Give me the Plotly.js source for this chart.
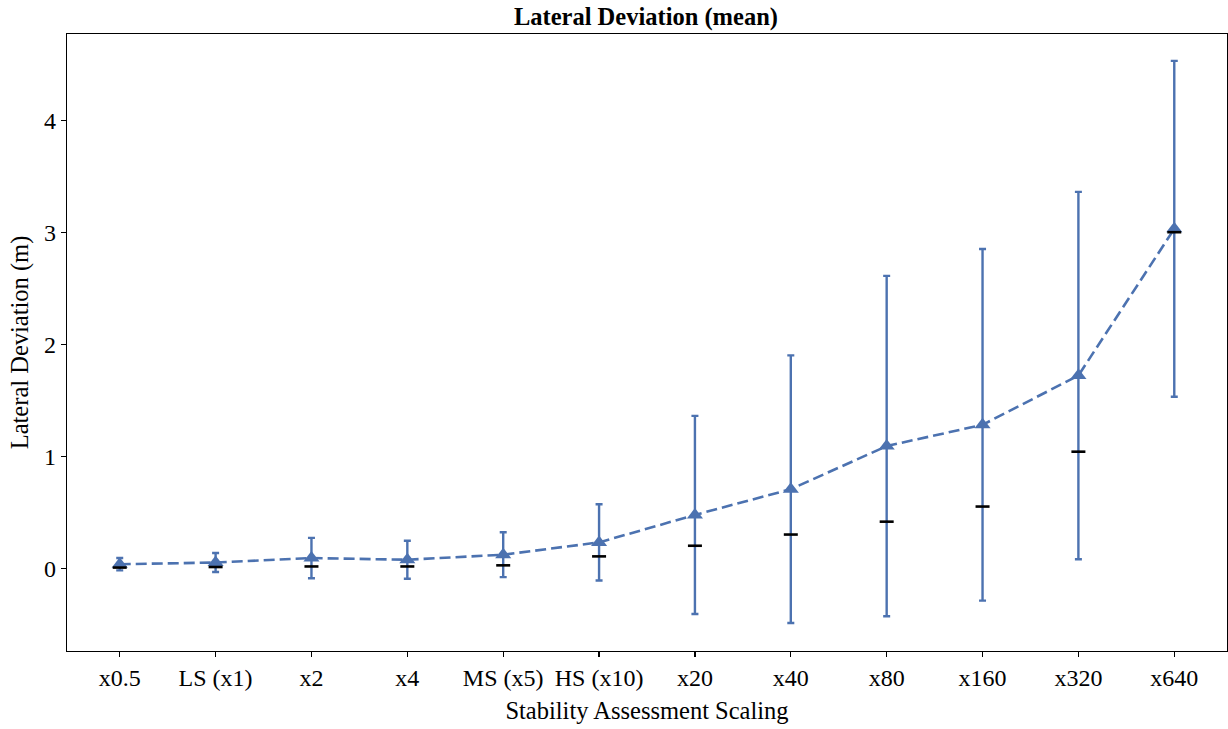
<!DOCTYPE html>
<html>
<head>
<meta charset="utf-8">
<script src="https://cdn.plot.ly/plotly-3.0.1.min.js"></script>
<style>html,body{margin:0;padding:0;background:#fff;}#chart{width:1228px;height:729px;}</style>
</head>
<body>
<div id="chart"></div>
<script>
const categories = ['x0.5','LS (x1)','x2','x4','MS (x5)','HS (x10)','x20','x40','x80','x160','x320','x640'];
const meanValues = [0.035, 0.05, 0.09, 0.075, 0.12, 0.23, 0.475, 0.705, 1.09, 1.28, 1.72, 3.03];
const stdValues = [0.055, 0.085, 0.18, 0.17, 0.2, 0.34, 0.885, 1.195, 1.52, 1.57, 1.64, 1.5];
const medianValues = [0.005, 0.01, 0.015, 0.015, 0.025, 0.105, 0.20, 0.30, 0.415, 0.55, 1.04, 3.0];
const yTicks = [0, 1, 2, 3, 4];

const blue = '#4C72B0';
const serif = '"Liberation Serif", "Times New Roman", serif';
const xIdx = categories.map((c, i) => i);

const traces = [
  {
    x: xIdx, y: meanValues, type: 'scatter', mode: 'lines+markers',
    line: {color: blue, width: 2.6, dash: '11px,5px'},
    marker: {symbol: 'triangle-up', size: 14, color: blue},
    error_y: {type: 'data', array: stdValues, visible: true, color: blue, thickness: 2.4, width: 3.5},
    hoverinfo: 'skip'
  },
  {
    x: xIdx, y: medianValues, type: 'scatter', mode: 'markers',
    marker: {symbol: 'line-ew', size: 10, color: 'black', line: {color: 'black', width: 2.6}},
    hoverinfo: 'skip'
  }
];

const layout = {
  width: 1228, height: 729,
  margin: {l: 67, r: 1, t: 34, b: 78},
  paper_bgcolor: '#fff', plot_bgcolor: '#fff',
  showlegend: false,
  font: {family: serif, color: '#000', size: 24},
  title: {text: '<b>Lateral Deviation (mean)</b>', font: {family: serif, size: 24.5, color: '#000'},
          x: 0.526, xanchor: 'center', y: 0.977, yanchor: 'middle', yref: 'container'},
  xaxis: {
    range: [-0.55, 11.55], tickmode: 'array', tickvals: xIdx, ticktext: categories,
    showgrid: false, zeroline: false, showline: true, linecolor: '#000', linewidth: 1.2, mirror: true,
    ticks: 'outside', ticklen: 5, tickwidth: 1.2, tickcolor: '#000',
    tickfont: {family: serif, size: 24, color: '#000'},
    title: {text: 'Stability Assessment Scaling', font: {family: serif, size: 24.5, color: '#000'}, standoff: 11},
    automargin: false
  },
  yaxis: {
    range: [-0.74, 4.77], tickmode: 'array', tickvals: yTicks, ticktext: yTicks.map(String),
    showgrid: false, zeroline: false, showline: true, linecolor: '#000', linewidth: 1.2, mirror: true,
    ticks: 'outside', ticklen: 5, tickwidth: 1.2, tickcolor: '#000',
    tickfont: {family: serif, size: 24, color: '#000'},
    title: {text: 'Lateral Deviation (m)', font: {family: serif, size: 24.5, color: '#000'}, standoff: 8},
    automargin: false
  }
};

Plotly.newPlot('chart', traces, layout, {displayModeBar: false, staticPlot: true});
</script>
</body>
</html>
